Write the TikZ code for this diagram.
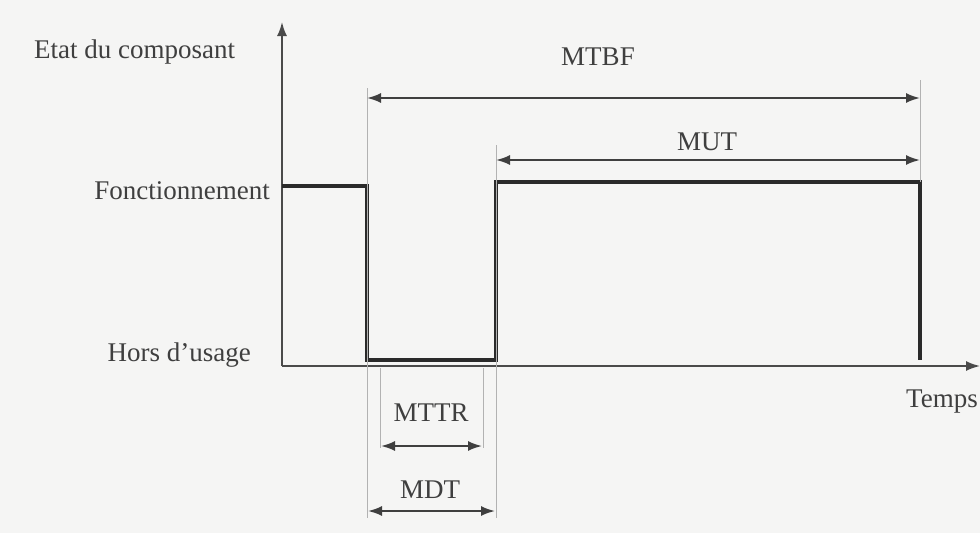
\documentclass[tikz,border=0pt]{standalone}
\usepackage{fontspec}
\setmainfont{Liberation Serif}
\usetikzlibrary{arrows.meta}
\definecolor{ink}{HTML}{2A2A2A}
\definecolor{paper}{HTML}{F5F5F4}
\begin{document}
\begin{tikzpicture}[x=1pt,y=-1pt,
  lbl/.style={font=\fontsize{27}{29}\selectfont, text=ink!90, inner sep=0pt},
  axis/.style={draw=ink!85, line width=1.8pt, -{Latex[length=14pt,width=10pt]}},
  sig/.style={draw=ink, line width=3.4pt, line join=miter},
  dim/.style={draw=ink!90, line width=1.9pt, {Latex[length=14pt,width=10pt]}-{Latex[length=14pt,width=10pt]}},
  ext/.style={draw=gray!60, line width=0.8pt}]
\fill[paper] (0,0) rectangle (980,533);
\useasboundingbox (0,0) rectangle (980,533);
% axes
\coordinate (O) at (282,366);
\coordinate (ytop) at (282,22);
\coordinate (xend) at (980,366);
\draw[axis] (O) -- (ytop);
\draw[axis] (O) -- (xend);
% key instants
\coordinate (s0) at (282,186);
\coordinate (a1) at (367,186);
\coordinate (a2) at (367,360);
\coordinate (b1) at (496,360);
\coordinate (b2) at (496,182);
\coordinate (c1) at (920,182);
\coordinate (c2) at (920,360);
\draw[sig] (s0) -- (a1) -- (a2) -- (b1) -- (b2) -- (c1) -- (c2);
% extension lines
\coordinate (e1t) at (367,88); \coordinate (e1b) at (367,518);
\coordinate (e2t) at (496,145); \coordinate (e2b) at (496,518);
\coordinate (e3t) at (920,80);
\coordinate (e4t) at (380,368); \coordinate (e4b) at (380,448);
\coordinate (e5t) at (483,368); \coordinate (e5b) at (483,448);
\draw[ext] (e1t) -- (e1b);
\draw[ext] (e2t) -- (e2b);
\draw[ext] (e3t) -- (c1);
\draw[ext] (e4t) -- (e4b);
\draw[ext] (e5t) -- (e5b);
% dimension arrows
\coordinate (mtbfL) at (367,98); \coordinate (mtbfR) at (920,98);
\coordinate (mutL) at (496,160); \coordinate (mutR) at (920,160);
\coordinate (mttrL) at (381,446); \coordinate (mttrR) at (482,446);
\coordinate (mdtL) at (368,511); \coordinate (mdtR) at (495,511);
\draw[dim] (mtbfL) -- (mtbfR);
\draw[dim] (mutL) -- (mutR);
\draw[dim] (mttrL) -- (mttrR);
\draw[dim] (mdtL) -- (mdtR);
% labels
\node[lbl] (tmtbf) at (598,57) {MTBF};
\node[lbl] (tmut) at (707,142) {MUT};
\node[lbl] (tmttr) at (431,413) {MTTR};
\node[lbl] (tmdt) at (430,490) {MDT};
\node[lbl, anchor=west] (tetat) at (34,52) {Etat du composant};
\node[lbl, anchor=east] (tfon) at (270,191) {Fonctionnement};
\node[lbl, anchor=east] (thors) at (251,355) {Hors d’usage};
\node[lbl, anchor=east] (ttemps) at (978,402) {Temps};
\end{tikzpicture}
\end{document}
